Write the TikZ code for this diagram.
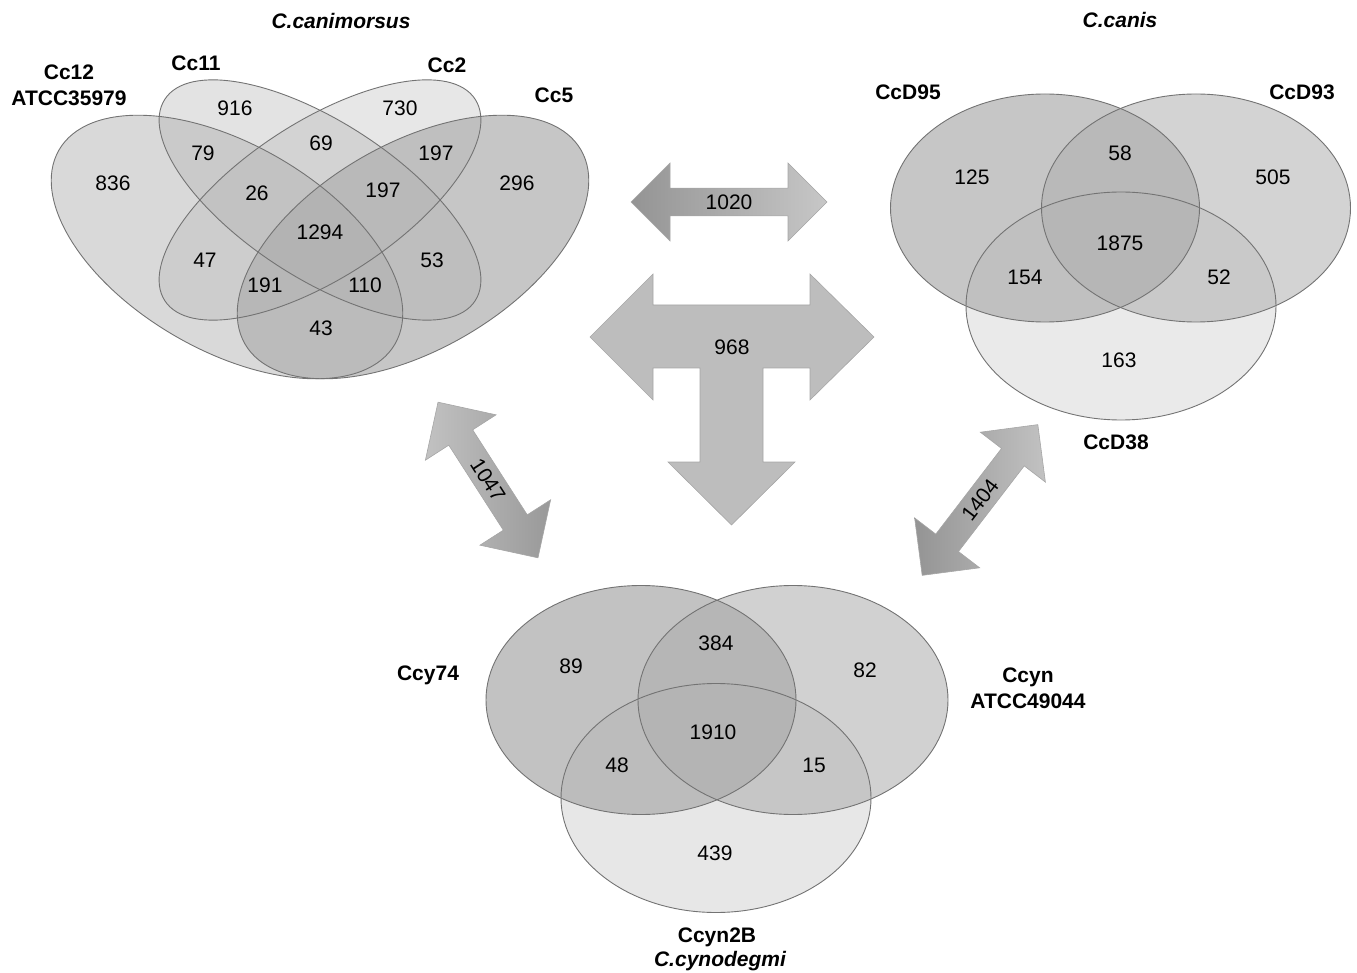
\documentclass[tikz,border=0pt]{standalone}
\usepackage{fontspec}
\setmainfont{Liberation Sans}
\usetikzlibrary{shapes.geometric,shapes.arrows}

\begin{document}
\begin{tikzpicture}[x=1pt, y=-1pt,
    vennfill/.style={ellipse, inner sep=0pt, fill=black!32, fill opacity=#1},
    vennline/.style={ellipse, inner sep=0pt, draw=black!55, line width=0.9pt},
    num/.style={font=\fontsize{21}{25}\selectfont, inner sep=0pt},
    lab/.style={font=\fontsize{21}{26}\selectfont\bfseries, inner sep=0pt, align=center},
    species/.style={font=\fontsize{21}{25}\selectfont\bfseries\itshape, inner sep=0pt},
    bigarrow/.style={double arrow, draw=black!35, line width=0.6pt, inner sep=3pt,
      double arrow head extend=#1, font=\fontsize{21}{25}\selectfont},
    teearrow/.style={fill=black!26, draw=black!35, line width=0.6pt}]

    \useasboundingbox (0,0) rectangle (1357,973);

    % Ellipses: name / centre / width / height / rotation / opacity
    \def\venns{cc12/{(227,247)}/388/206/-30/.46, cc11/{(320,200)}/370/156/-33/.34,
      cc2/{(320,200)}/370/156/33/.29, cc5/{(413,247)}/388/206/30/.69,
      ccd95/{(1045,208)}/309/228/0/.69, ccd93/{(1196,208)}/309/228/0/.54,
      ccd38/{(1121,306)}/310/228/0/.25,
      ccy74/{(641,700)}/310/229/0/.74, ccyn/{(793,700)}/310/229/0/.56,
      ccyn2b/{(716,798)}/310/229/0/.29}

    % fills first, outlines on top
    \foreach \nm/\pos/\w/\h/\r/\op in \venns
      \node[vennfill=\op, minimum width=\w, minimum height=\h, rotate=\r] at \pos {};
    \foreach \nm/\pos/\w/\h/\r/\op in \venns
      \node[vennline, minimum width=\w, minimum height=\h, rotate=\r] (\nm) at \pos {};

    % ---- C.canimorsus ----
    \node[species] (canimorsus) at (341,21) {C.canimorsus};
    \node[lab] (lcc12) at (69,85) {Cc12\\ATCC35979};
    \node[lab] (lcc11) at (196,63) {Cc11};
    \node[lab] (lcc2)  at (447,65) {Cc2};
    \node[lab] (lcc5)  at (554,95) {Cc5};

    \node[num] (n916)  at (235,108) {916};
    \node[num] (n730)  at (400,108) {730};
    \node[num] (n79)   at (203,153) {79};
    \node[num] (n69)   at (321,143) {69};
    \node[num] (n197a) at (436,153) {197};
    \node[num] (n836)  at (113,183) {836};
    \node[num] (n26)   at (257,193) {26};
    \node[num] (n197b) at (383,190) {197};
    \node[num] (n296)  at (517,183) {296};
    \node[num] (n1294) at (320,232) {1294};
    \node[num] (n47)   at (205,260) {47};
    \node[num] (n53)   at (432,260) {53};
    \node[num] (n191)  at (265,285) {191};
    \node[num] (n110)  at (365,285) {110};
    \node[num] (n43)   at (321,328) {43};

    % ---- C.canis ----
    \node[species] (canis) at (1120,20) {C.canis};
    \node[lab] (lccd95) at (908,92)   {CcD95};
    \node[lab] (lccd93) at (1302,92)  {CcD93};
    \node[lab] (lccd38) at (1116,442) {CcD38};

    \node[num] (n125)  at (972,177)  {125};
    \node[num] (n58)   at (1120,153) {58};
    \node[num] (n505)  at (1273,177) {505};
    \node[num] (n1875) at (1120,243) {1875};
    \node[num] (n154)  at (1025,277) {154};
    \node[num] (n52)   at (1219,277) {52};
    \node[num] (n163)  at (1119,360) {163};

    % ---- C.cynodegmi ----
    \node[lab] (lccy74)  at (428,675)  {Ccy74};
    \node[lab] (lccyn)   at (1028,688) {Ccyn\\ATCC49044};
    \node[lab] (lccyn2b) at (717,937)  {Ccyn2B};
    \node[species] (cynodegmi) at (720,961) {C.cynodegmi};

    \node[num] (n89)   at (571,666) {89};
    \node[num] (n384)  at (716,643) {384};
    \node[num] (n82)   at (865,670) {82};
    \node[num] (n1910) at (713,732) {1910};
    \node[num] (n48)   at (617,765) {48};
    \node[num] (n15)   at (814,765) {15};
    \node[num] (n439)  at (715,853) {439};

    % ---- shared genes: block arrows ----
    \node[bigarrow=19.5, minimum height=196, minimum width=78,
          left color=black!42, right color=black!22] (a1020) at (729,202) {1020};
    \node[bigarrow=21, minimum height=185, minimum width=84, rotate=-57.3,
          left color=black!24, right color=black!40] (a1047) at (488,480) {1047};
    \node[bigarrow=20, minimum height=190, minimum width=82, rotate=52.5,
          left color=black!42, right color=black!24] (a1404) at (980,500) {1404};

    % three-way arrow
    \draw[teearrow] (590,337) -- (653,274) -- (653,305) -- (810,305) -- (810,274)
      -- (874,337) -- (810,400) -- (810,368) -- (763,368) -- (763,462) -- (795,462)
      -- (731.5,525) -- (668,462) -- (700,462) -- (700,368) -- (653,368) -- (653,400) -- cycle;
    \node[num] (n968) at (732,347) {968};

\end{tikzpicture}
\end{document}
